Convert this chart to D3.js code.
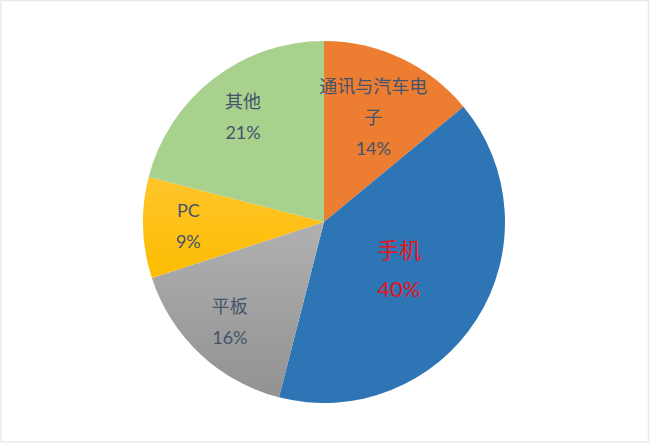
<!DOCTYPE html>
<html>
<head>
<meta charset="utf-8">
<script src="https://cdn.jsdelivr.net/npm/d3@7"></script>
<style>
  html, body { margin: 0; padding: 0; background: #fff; }
  svg { display: block; }
  text { font-family: Lato, "Noto Sans CJK SC", sans-serif; }
</style>
</head>
<body>
<svg></svg>
<script>
// data (clockwise from 12 o'clock)
const categories = ["通讯与汽车电子", "手机", "平板", "PC", "其他"];
const shares = [14, 40, 16, 9, 21];
// label lines as Excel wrapped them
const labelLines = [["通讯与汽车电", "子"], ["手机"], ["平板"], ["PC"], ["其他"]];

const size = { w: 650, h: 444 };
const center = { x: 324, y: 222 };
const radius = 181;

// slice fills: plain colours or vertical gradients [top, bottom]
const fills = [
	["#ED7D31"],
	["#2E75B6"],
	["#B0B0B0", "#929292"],
	["#FFC52C", "#FCBC00"],
	["#A9D18E"],
];
// Excel "best fit" puts labels at different depths, as a fraction of radius
const labelDepth = [0.64, 0.49, 0.76, 0.75, 0.73];

const svg = d3.select("svg").attr("width", size.w).attr("height", size.h);

// light frame round the chart area
svg.append("rect")
	.attr("x", 1).attr("y", 0.5)
	.attr("width", size.w - 2.5).attr("height", size.h - 2.5)
	.attr("fill", "none")
	.attr("stroke", "#EAEAEA")
	.attr("stroke-width", 1.5);

const defs = svg.append("defs");
fills.forEach((f, i) => {
	if (f.length < 2) return;
	const g = defs.append("linearGradient")
		.attr("id", `grad${i}`)
		.attr("x1", 0).attr("y1", 0).attr("x2", 0).attr("y2", 1);
	g.append("stop").attr("offset", "0%").attr("stop-color", f[0]);
	g.append("stop").attr("offset", "100%").attr("stop-color", f[1]);
});

const pie = d3.pie().sort(null).value((d) => d);
const arcs = pie(shares);
const arc = d3.arc().innerRadius(0).outerRadius(radius);

const pieG = svg.append("g")
	.attr("transform", `translate(${center.x},${center.y})`);

pieG.selectAll("path")
	.data(arcs)
	.join("path")
	.attr("d", arc)
	.attr("fill", (d, i) => (fills[i].length > 1 ? `url(#grad${i})` : fills[i][0]));

// labels
const total = d3.sum(shares);
const labelsG = pieG.append("g").classed("labels", true);
arcs.forEach((d, i) => {
	const r = radius * labelDepth[i];
	const lab = d3.arc().innerRadius(r).outerRadius(r);
	const [x, y] = lab.centroid(d);
	const big = i === 1;
	const lines = labelLines[i].concat([d3.format(".0%")(shares[i] / total)]);
	const step = big ? 39 : 31;
	const y0 = y - ((lines.length - 1) * step) / 2;
	labelsG.append("text")
		.attr("text-anchor", "middle")
		.attr("fill", big ? "#E8141B" : "#44546A")
		.attr("font-size", big ? 22 : 18)
		.selectAll("tspan")
		.data(lines)
		.join("tspan")
		.attr("x", x)
		.attr("y", (t, k) => y0 + k * step)
		.attr("dy", "0.35em")
		.text((t) => t);
});
</script>
</body>
</html>
